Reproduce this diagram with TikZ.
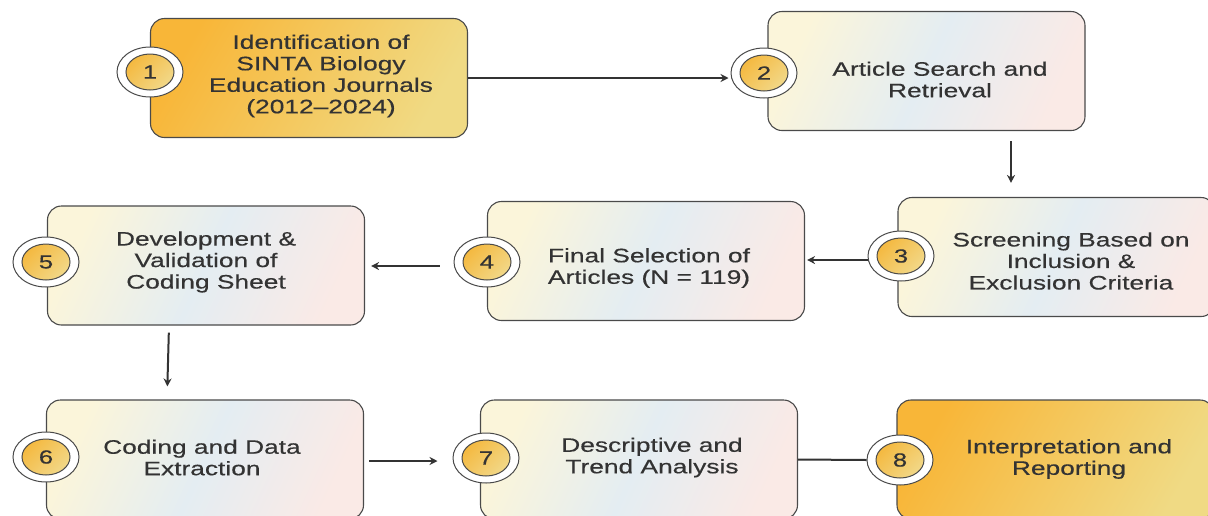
\documentclass[tikz,border=0pt]{standalone}
\usepackage{fontspec}
\setmainfont[FakeStretch=1.35,FakeBold=0.4]{Liberation Sans}
\usetikzlibrary{shapes.geometric,arrows.meta,calc}
\definecolor{boxline}{HTML}{4A4A4A}
\definecolor{inktext}{HTML}{333333}
\definecolor{pasY}{HTML}{FBF5DA}
\definecolor{pasB}{HTML}{E4EDF2}
\definecolor{pasP}{HTML}{FAEAE6}
\definecolor{ornA}{HTML}{F8B638}
\definecolor{ornB}{HTML}{F0DA84}
\definecolor{numA}{HTML}{F4B940}
\definecolor{numB}{HTML}{F2D888}
\begin{document}
\begin{tikzpicture}[x=1pt, y=-1pt,
  stepbox/.style={rectangle, rounded corners=14pt, draw=boxline, line width=1.1pt, minimum width=317pt, minimum height=119pt, inner sep=0pt},
  pastel/.style={stepbox, left color=pasY, right color=pasP, middle color=pasB, shading angle=65},
  golden/.style={stepbox, left color=ornA, right color=ornB, shading angle=60},
  ring/.style={ellipse, draw=boxline, line width=1pt, fill=white, minimum width=66pt, minimum height=50pt, inner sep=0pt},
  numdot/.style={ellipse, draw=boxline, line width=1pt, left color=numA, right color=numB, shading angle=45, minimum width=48pt, minimum height=36pt, inner sep=0pt, text=inktext, font=\fontsize{19}{19}\selectfont},
  steptext/.style={align=center, text=inktext, font=\fontsize{19.5}{21.5}\selectfont},
  flow/.style={draw=inktext, line width=2pt, -{Stealth[length=8pt,width=8pt]}}]
  \useasboundingbox (0,0) rectangle (1208,515);
  \clip (0,0) rectangle (1208,515);
  % boxes
  \node[golden] (b1) at (309,78) {};
  \node[pastel] (b2) at (926.5,71) {};
  \node[pastel] (b3) at (1056.5,257) {};
  \node[pastel] (b4) at (646,261) {};
  \node[pastel] (b5) at (206,265.5) {};
  \node[pastel] (b6) at (205,459.5) {};
  \node[pastel] (b7) at (639,459.5) {};
  \node[golden] (b8) at (1055.5,459.5) {};
  % texts
  \node[steptext] (t1) at (321,76) {Identification of\\SINTA Biology\\Education Journals\\(2012--2024)};
  \node[steptext] (t2) at (940,79.5) {Article Search and\\Retrieval};
  \node[steptext] (t3) at (1071,261) {Screening Based on\\Inclusion \&\\Exclusion Criteria};
  \node[steptext] (t4) at (649,268) {Final Selection of\\Articles (N = 119)};
  \node[steptext] (t5) at (206,262) {Development \&\\Validation of\\Coding Sheet};
  \node[steptext] (t6) at (202,457.5) {Coding and Data\\Extraction};
  \node[steptext] (t7) at (652,457.5) {Descriptive and\\Trend Analysis};
  \node[steptext] (t8) at (1069,459) {Interpretation and\\Reporting};
  % numbers
  \foreach \k/\px/\py in {1/150/72, 2/764/73, 3/901/256, 4/487/262, 5/46/262, 6/46/457, 7/486/458, 8/900/460} {
    \node[ring] (r\k) at (\px,\py) {};
    \node[numdot] (n\k) at (\px,\py) {\k};
  }
  % connectors
  \draw[flow, shorten >=2pt] (b1.east) -- (b1.east -| r2.west);
  \draw[flow, shorten <=10pt, shorten >=14pt] ([xshift=84.5pt]b2.south) -- ([xshift=84.5pt]b2.south |- b3.north);
  \draw[flow, shorten >=2pt] ([yshift=-4pt]r3.west) -- ([yshift=-4pt]r3.west -| b4.east);
  \draw[flow, shorten <=14pt, shorten >=6pt] ([yshift=-4pt]r4.west) -- ([yshift=-4pt]r4.west -| b5.east);
  \draw[flow, shorten <=7pt, shorten >=13pt] ([xshift=-37pt]b5.south) -- ([xshift=-38pt]b6.north);
  \draw[flow, shorten <=5pt, shorten >=15pt] ([yshift=-1.5pt]b6.east) -- ([yshift=-1.5pt]b6.east -| r7.west);
  \draw[draw=inktext, line width=2pt] (b7.east) -- (r8.west);
\end{tikzpicture}
\end{document}
